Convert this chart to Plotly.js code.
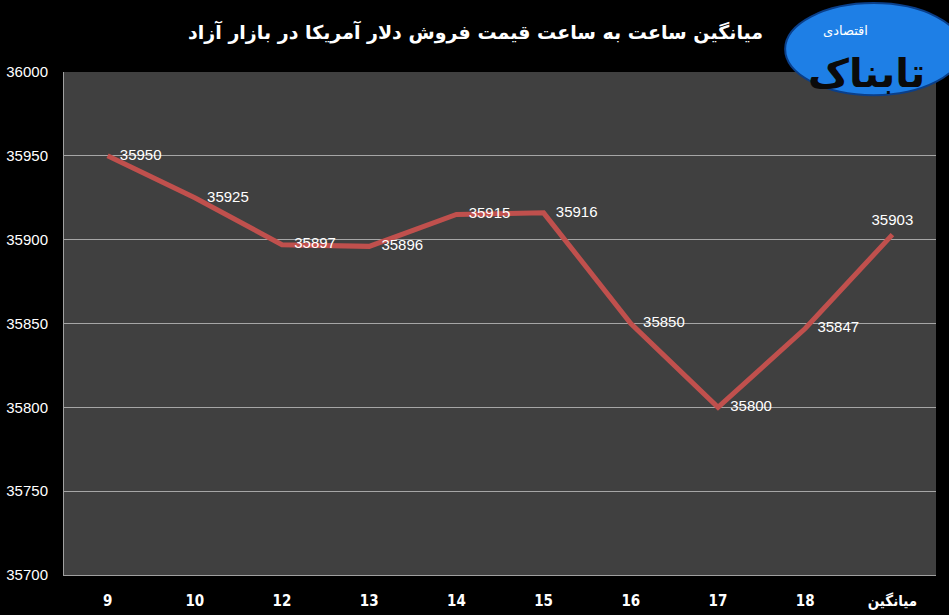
<!DOCTYPE html>
<html>
<head>
<meta charset="utf-8">
<script src="https://cdn.plot.ly/plotly-3.0.1.min.js"></script>
<style>html,body{margin:0;padding:0;background:#000;}#chart{width:949px;height:615px;}</style>
</head>
<body>
<div id="chart"></div>
<script>
const categories = ["9", "10", "12", "13", "14", "15", "16", "17", "18", "میانگین"];
const prices = [35950, 35925, 35897, 35896, 35915, 35916, 35850, 35800, 35847, 35903];
const labelPositions = ["middle right","middle right","middle right","middle right","middle right","middle right","middle right","middle right","middle right","top center"];
const yTicks = [35700, 35750, 35800, 35850, 35900, 35950, 36000];
const titleText = "میانگین ساعت به ساعت قیمت فروش دلار آمریکا در بازار آزاد";

const trace = {
  x: categories,
  y: prices,
  type: "scatter",
  mode: "lines+markers+text",
  line: {color: "#c0504d", width: 5},
  marker: {size: labelPositions.map(p => p === "top center" ? 8 : 18), color: "rgba(0,0,0,0)", line: {width: 0}},
  text: prices.map(String),
  textposition: labelPositions,
  textfont: {color: "#ffffff", size: 15, family: "Liberation Sans, Arial, sans-serif"},
  cliponaxis: false,
  hoverinfo: "skip"
};

const layout = {
  width: 949, height: 615,
  paper_bgcolor: "#000000",
  plot_bgcolor: "#404040",
  margin: {l: 64, r: 13, t: 72, b: 40},
  showlegend: false,
  title: {
    text: "<b>" + titleText + "</b>",
    x: 0.472, xanchor: "center", xref: "paper",
    y: 0.947, yanchor: "middle",
    font: {color: "#ffffff", size: 19, family: "DejaVu Sans, sans-serif"}
  },
  xaxis: {
    type: "category",
    range: [-0.5, 9.5],
    showgrid: false,
    showline: true, linecolor: "#a0a0a0", linewidth: 1,
    ticks: "outside", ticklen: 12, tickcolor: "rgba(0,0,0,0)",
    tickfont: {color: "#ffffff", size: 15, family: "DejaVu Sans Condensed, DejaVu Sans, sans-serif", weight: "bold"},
    zeroline: false
  },
  yaxis: {
    range: [35700, 36000],
    tickvals: yTicks,
    ticktext: yTicks.map(String),
    showgrid: true, gridcolor: "#a6a6a6", gridwidth: 1,
    showline: true, linecolor: "#a0a0a0", linewidth: 1,
    ticks: "outside", ticklen: 12, tickcolor: "rgba(0,0,0,0)",
    tickfont: {color: "#ffffff", size: 15, family: "Liberation Sans Narrow, Liberation Sans, sans-serif"},
    zeroline: false
  },
  shapes: [
    {type: "circle", xref: "paper", yref: "paper", layer: "above",
     x0: 0.827, x1: 1.03, y0: 0.954, y1: 1.137,
     fillcolor: "#1e7fe6", line: {color: "#0a3f8a", width: 2}}
  ],
  annotations: [
    {xref: "paper", yref: "paper", x: 0.92, y: 0.998, xanchor: "center", yanchor: "middle", showarrow: false,
     text: "<b>تابناک</b>", font: {color: "#0a0a0a", size: 40, family: "DejaVu Sans, sans-serif"}},
    {xref: "paper", yref: "paper", x: 0.896, y: 1.082, xanchor: "center", yanchor: "middle", showarrow: false,
     text: "اقتصادی", font: {color: "#ffffff", size: 13, family: "DejaVu Sans, sans-serif"}}
  ]
};

Plotly.newPlot("chart", [trace], layout, {displayModeBar: false, staticPlot: true});
</script>
</body>
</html>
